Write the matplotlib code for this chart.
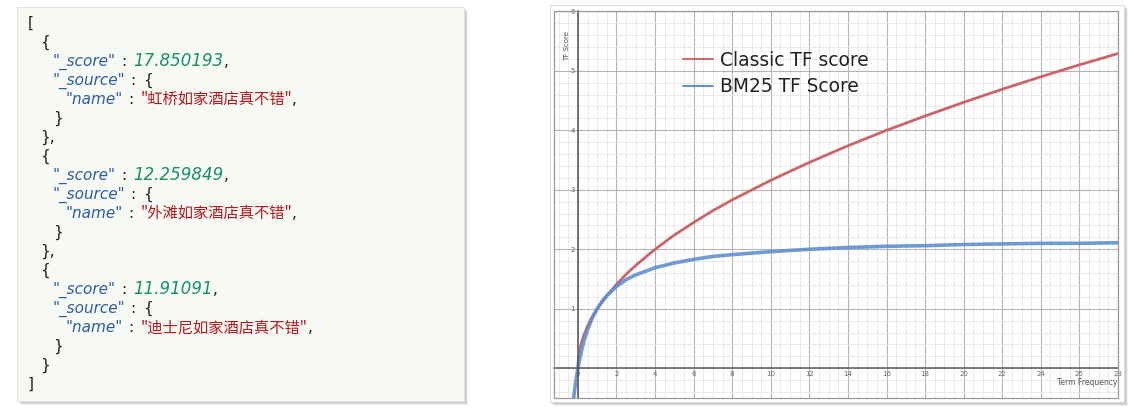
import matplotlib
matplotlib.use('Agg')
import matplotlib.pyplot as plt
from matplotlib.patches import Rectangle
from matplotlib.ticker import MultipleLocator, FixedLocator

# ---------------- data ----------------
hotel_scores = ["17.850193", "12.259849", "11.91091"]
hotel_names = ["虹桥如家酒店真不错", "外滩如家酒店真不错", "迪士尼如家酒店真不错"]

tf_classic = [0, 0.02, 0.05, 0.1, 0.2, 0.3, 0.5, 0.75, 1, 1.25, 1.5, 2, 2.5, 3, 4, 5, 6, 7,
              8, 10, 12, 14, 16, 18, 20, 22, 24, 26, 28]
classic_score = [0, 0.14, 0.22, 0.32, 0.45, 0.55, 0.71, 0.87, 1.0, 1.12, 1.22, 1.41, 1.58,
                 1.73, 2.0, 2.24, 2.45, 2.65, 2.83, 3.16, 3.46, 3.74, 4.0, 4.24, 4.47, 4.69,
                 4.90, 5.10, 5.29]

tf_bm25 = [-0.22, -0.1, 0, 0.1, 0.2, 0.3, 0.5, 0.75, 1, 1.25, 1.5, 2, 2.5, 3, 4, 5, 6, 7, 8,
           10, 12, 14, 16, 18, 20, 22, 24, 26, 28]
bm25_score = [-0.49, -0.20, 0, 0.17, 0.31, 0.44, 0.65, 0.85, 1.0, 1.12, 1.22, 1.375, 1.49,
              1.57, 1.69, 1.77, 1.83, 1.88, 1.91, 1.96, 2.0, 2.03, 2.05, 2.06, 2.08, 2.09,
              2.10, 2.10, 2.11]

series_labels = ["Classic TF score", "BM25 TF Score"]
x_ticks = list(range(0, 29, 2))
y_ticks = [1, 2, 3, 4, 5, 6]
x_title = "Term Frequency"
y_title = "TF Score"

# ---------------- figure ----------------
fig = plt.figure(figsize=(11.34, 4.12), dpi=100)
bg = fig.add_axes([0, 0, 1, 1])
bg.set_xlim(0, 1134)
bg.set_ylim(412, 0)
bg.axis('off')


def box_with_shadow(x0, y0, w, h, face, edge):
    for k, a in [(4, 0.10), (3, 0.15), (2, 0.2), (1, 0.25)]:
        bg.add_patch(Rectangle((x0 + k, y0 + k), w, h, fc='#707070', ec='none', alpha=a))
    bg.add_patch(Rectangle((x0, y0), w, h, fc=face, ec=edge, lw=0.8))


box_with_shadow(17, 7, 447, 394, '#f7f9f4', '#e3e5e0')
box_with_shadow(550, 5, 574, 397, 'white', '#dcdcdc')

# ---------------- JSON text ----------------
renderer = fig.canvas.get_renderer()
FS = 11
KEY = dict(family='DejaVu Sans', style='oblique', size=FS, color='#2b5ca8')
NUM = dict(family='DejaVu Sans', style='oblique', size=FS + 1, color='#17906a')
STR = dict(family=['Noto Sans CJK SC', 'DejaVu Sans'], size=FS, color='#b2171c')
PUN = dict(family='DejaVu Sans', size=FS, color='#222222')


def put(x, y, s, style):
    t = bg.text(x, y, s, va='baseline', ha='left', **style)
    return x + t.get_window_extent(renderer).width


lines = [(0, [("[", PUN)])]
for i, (sc, nm) in enumerate(zip(hotel_scores, hotel_names)):
    lines.append((1, [("{", PUN)]))
    lines.append((2, [('"_score"', KEY), (":", PUN), (sc, NUM), (",", PUN)]))
    lines.append((2, [('"_source"', KEY), (":", PUN), ("{", PUN)]))
    lines.append((3, [('"name"', KEY), (":", PUN), ('"' + nm + '"', STR), (",", PUN)]))
    lines.append((2, [("}", PUN)]))
    lines.append((1, [("}," if i < len(hotel_names) - 1 else "}", PUN)]))
lines.append((0, [("]", PUN)]))

indent_x = [28, 40, 53, 66]
for li, (lvl, pieces) in enumerate(lines):
    y = 28 + 19 * li
    x = indent_x[lvl]
    for s, st in pieces:
        if s == ":":
            x += 5
            x = put(x, y, s, st)
            x += 7
        else:
            x = put(x, y, s, st)

# ---------------- chart ----------------
ax = fig.add_axes([554 / 1134, 1 - 398 / 412, (1118 - 554) / 1134, (398 - 10.7) / 412])
ax.set_xlim(-1.24, 28)
ax.set_ylim(-0.5, 6.01)

ax.xaxis.set_major_locator(FixedLocator(x_ticks))
ax.yaxis.set_major_locator(FixedLocator(y_ticks))
ax.xaxis.set_minor_locator(MultipleLocator(0.5))
ax.yaxis.set_minor_locator(MultipleLocator(0.2))
ax.grid(which='minor', color='#e6e6e6', lw=0.6)
ax.grid(which='major', color='#b4b4b4', lw=0.8)
ax.set_axisbelow(True)

for s in ['top', 'right']:
    ax.spines[s].set_visible(False)
ax.spines['bottom'].set_position(('data', 0))
ax.spines['left'].set_position(('data', 0))
ax.spines['bottom'].set_color('#555555')
ax.spines['left'].set_color('#555555')
ax.spines['bottom'].set_linewidth(1.1)
ax.spines['left'].set_linewidth(1.1)
ax.tick_params(which='both', length=0, labelsize=5, labelcolor='#666666', pad=2)
ax.add_patch(Rectangle((0, 0), 1, 1, transform=ax.transAxes, fill=False,
                       ec='#9a9a9a', lw=0.9, clip_on=False, zorder=5))

l1, = ax.plot(tf_classic, classic_score, color='#cc6468', lw=2.0, solid_capstyle='round')
l2, = ax.plot(tf_bm25, bm25_score, color='#5f8fce', lw=2.6, alpha=0.9,
              solid_capstyle='round')
l1.set_label(series_labels[0])
l2.set_label(series_labels[1])

leg = ax.legend(handles=[l1, l2], loc='upper left',
                bbox_to_anchor=(683 / 1134, 1 - 51 / 412), bbox_transform=fig.transFigure,
                frameon=False, borderpad=0, borderaxespad=0,
                handlelength=1.6, handletextpad=0.4, labelspacing=0.38,
                prop={'family': 'DejaVu Sans', 'size': 13.4})
for ln in leg.get_lines():
    ln.set_linewidth(1.4)
    ln.set_alpha(1)
for t in leg.get_texts():
    t.set_color('#222222')

ax.text(0.023, 0.91, y_title, transform=ax.transAxes, rotation=90, fontsize=5,
        color='#555555', ha='center', va='center')
ax.text(0.945, 0.041, x_title, transform=ax.transAxes, fontsize=5.5,
        color='#555555', ha='center', va='center')

fig.savefig('out.png', dpi=100)
